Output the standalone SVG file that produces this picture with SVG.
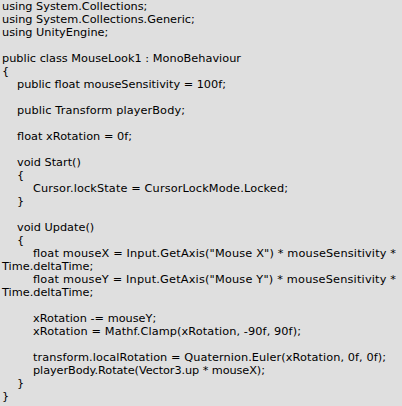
<svg xmlns="http://www.w3.org/2000/svg" width="402" height="406" viewBox="0 0 402 406">
<style>
text{font-family:"DejaVu Sans","Verdana",sans-serif;font-size:11.3px;fill:#000}
</style>
<rect width="402" height="406" fill="#dfdfdf"/>
<g id="code">
<text x="2" y="10">using System.Collections;</text>
<text x="2" y="23">using System.Collections.Generic;</text>
<text x="2" y="36">using UnityEngine;</text>
<text x="2" y="62" textLength="239">public class MouseLook1 : MonoBehaviour</text>
<text x="2" y="75">{</text>
<text x="17" y="88" textLength="209">public float mouseSensitivity = 100f;</text>
<text x="17" y="114" textLength="168">public Transform playerBody;</text>
<text x="17" y="140" textLength="115">float xRotation = 0f;</text>
<text x="17" y="166">void Start()</text>
<text x="17" y="179">{</text>
<text x="33" y="192" textLength="255">Cursor.lockState = CursorLockMode.Locked;</text>
<text x="17" y="205">}</text>
<text x="17" y="231">void Update()</text>
<text x="17" y="244">{</text>
<text x="33" y="257" textLength="363">float mouseX = Input.GetAxis("Mouse X") * mouseSensitivity *</text>
<text x="2" y="270">Time.deltaTime;</text>
<text x="33" y="283" textLength="363">float mouseY = Input.GetAxis("Mouse Y") * mouseSensitivity *</text>
<text x="2" y="296">Time.deltaTime;</text>
<text x="33" y="322">xRotation -= mouseY;</text>
<text x="33" y="335" textLength="268">xRotation = Mathf.Clamp(xRotation, -90f, 90f);</text>
<text x="33" y="361" textLength="353">transform.localRotation = Quaternion.Euler(xRotation, 0f, 0f);</text>
<text x="33" y="374" textLength="232">playerBody.Rotate(Vector3.up * mouseX);</text>
<text x="17" y="387">}</text>
<text x="2" y="400">}</text>
</g>
</svg>
